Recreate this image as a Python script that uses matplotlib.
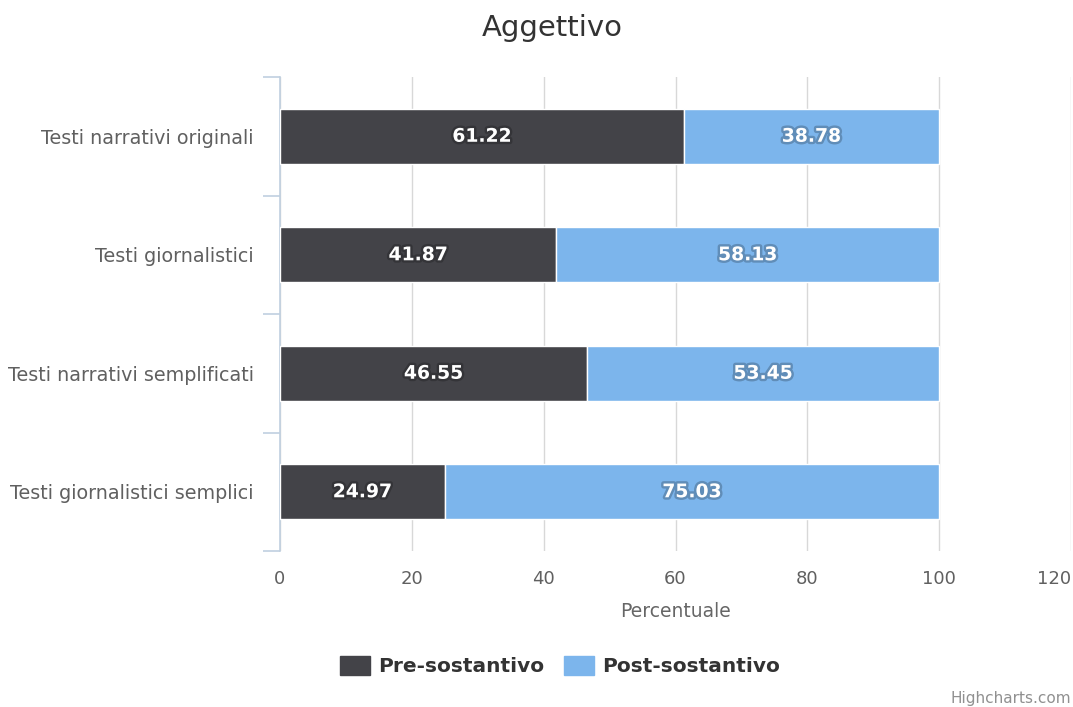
import matplotlib
matplotlib.use("Agg")
import matplotlib.pyplot as plt
import matplotlib.patheffects as pe
from matplotlib.patches import Patch

categories = ["Testi narrativi originali", "Testi giornalistici",
              "Testi narrativi semplificati", "Testi giornalistici semplici"]
pre = [61.22, 41.87, 46.55, 24.97]
post = [38.78, 58.13, 53.45, 75.03]
series_names = ["Pre-sostantivo", "Post-sostantivo"]
xticks = [0, 20, 40, 60, 80, 100, 120]

dark = "#434348"
blue = "#7cb5ec"

plt.rcParams["font.family"] = "DejaVu Sans"

fig = plt.figure(figsize=(10.73, 7.07), dpi=100)
W, H = 1073, 707
ax = fig.add_axes([280 / W, 1 - 551 / H, (1071 - 280) / W, (551 - 77) / H])

ypos = list(range(len(categories)))
ax.barh(ypos, pre, height=0.465, color=dark, edgecolor="white", linewidth=1, zorder=3)
ax.barh(ypos, post, left=pre, height=0.465, color=blue, edgecolor="white", linewidth=1, zorder=3)

shadow = [pe.withStroke(linewidth=3.5, foreground="black", alpha=0.22)]
for y, a, b in zip(ypos, pre, post):
    ax.text(a / 2, y, f"{a:.2f}", ha="center", va="center", color="white",
            fontsize=13.5, fontweight="bold", path_effects=shadow, zorder=4)
    ax.text(a + b / 2, y, f"{b:.2f}", ha="center", va="center", color="white",
            fontsize=13.5, fontweight="bold", path_effects=shadow, zorder=4)

ax.set_xlim(0, 120)
ax.set_ylim(len(categories) - 0.5, -0.5)
ax.set_xticks(xticks)
ax.set_xticklabels([str(t) for t in xticks], fontsize=13, color="#606060")
ax.get_xticklabels()[-1].set_ha("right")
ax.tick_params(axis="x", length=0, pad=14)
ax.grid(axis="x", color="#d8d8d8", linewidth=1, zorder=0)

# category axis: labels at centres, ticks at boundaries
ax.set_yticks(ypos)
ax.set_yticklabels(categories, fontsize=13.8, color="#606060")
ax.set_yticks([i - 0.5 for i in range(len(categories) + 1)], minor=True)
ax.tick_params(axis="y", which="major", length=0, pad=19)
ax.tick_params(axis="y", which="minor", length=12, width=1.2, color="#c0d0e0")

for s in ["top", "right", "bottom"]:
    ax.spines[s].set_visible(False)
ax.spines["left"].set_color("#c0d0e0")
ax.spines["left"].set_linewidth(1.2)

ax.set_xlabel("Percentuale", fontsize=13.5, color="#666666", labelpad=10)

fig.text(552 / W, 1 - 28 / H, "Aggettivo", ha="center", va="center",
         fontsize=21, color="#333333")

handles = [Patch(facecolor=dark, edgecolor=dark), Patch(facecolor=blue, edgecolor=blue)]
fig.legend(handles, series_names, loc="center", bbox_to_anchor=(560 / W, 1 - 666 / H),
           ncol=2, frameon=False, prop={"size": 14.5, "weight": "bold"},
           handlelength=1.5, handleheight=1.1, columnspacing=1.0,
           handletextpad=0.4, labelcolor="#333333")

fig.text(1071 / W, 1 - 698 / H, "Highcharts.com", ha="right", va="center",
         fontsize=11, color="#909090")

fig.savefig("out.png", dpi=100)
